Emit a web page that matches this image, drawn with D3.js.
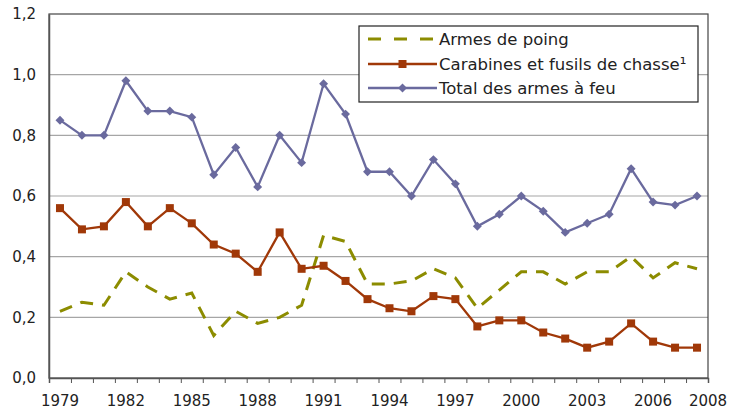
<!DOCTYPE html>
<html>
<head>
<meta charset="utf-8">
<script src="https://cdn.jsdelivr.net/npm/d3@7"></script>
<style>
  body { margin: 0; background: #fff; }
  text { font-family: "DejaVu Sans", Verdana, sans-serif; fill: #222; }
</style>
</head>
<body>
<div id="chart"></div>
<script>
// data
var years = d3.range(1979, 2009);
var armesPoing = [0.22, 0.25, 0.24, 0.35, 0.30, 0.26, 0.28, 0.14, 0.22, 0.18,
  0.20, 0.24, 0.47, 0.45, 0.31, 0.31, 0.32, 0.36, 0.33, 0.23,
  0.29, 0.35, 0.35, 0.31, 0.35, 0.35, 0.40, 0.33, 0.38, 0.36];
var carabines = [0.56, 0.49, 0.50, 0.58, 0.50, 0.56, 0.51, 0.44, 0.41, 0.35,
  0.48, 0.36, 0.37, 0.32, 0.26, 0.23, 0.22, 0.27, 0.26, 0.17,
  0.19, 0.19, 0.15, 0.13, 0.10, 0.12, 0.18, 0.12, 0.10, 0.10];
var total = [0.85, 0.80, 0.80, 0.98, 0.88, 0.88, 0.86, 0.67, 0.76, 0.63,
  0.80, 0.71, 0.97, 0.87, 0.68, 0.68, 0.60, 0.72, 0.64, 0.50,
  0.54, 0.60, 0.55, 0.48, 0.51, 0.54, 0.69, 0.58, 0.57, 0.60];
var yTicks = [0, 0.2, 0.4, 0.6, 0.8, 1.0, 1.2];
var xLabels = [1979, 1982, 1985, 1988, 1991, 1994, 1997, 2000, 2003, 2006];
var lastLabel = 2008;
var seriesNames = ["Armes de poing", "Carabines et fusils de chasse\u00b9", "Total des armes \u00e0 feu"];

// dimensions
var W = 731, H = 410;
var margin = { top: 14, right: 23, bottom: 32, left: 49 },
  width = W - margin.left - margin.right,
  height = H - margin.top - margin.bottom;

var svg = d3.select("#chart")
  .append("svg")
  .attr("width", W)
  .attr("height", H)
  .append("g")
  .attr("transform", "translate(" + margin.left + "," + margin.top + ")");

// scales
var x = d3.scaleBand().domain(years).range([0, width]).padding(0);
var cx = function (d) { return x(d) + x.bandwidth() / 2; };
var y = d3.scaleLinear().domain([0, 1.2]).range([height, 0]);
var fmt = function (v) { return d3.format(".1f")(v).replace(".", ","); };

// gridlines
svg.selectAll(".grid")
  .data(yTicks.slice(1, -1))
  .enter()
  .append("line")
  .attr("x1", 0).attr("x2", width)
  .attr("y1", function (d) { return y(d); })
  .attr("y2", function (d) { return y(d); })
  .attr("stroke", "#a6a6a6")
  .attr("stroke-width", 1.2);

// plot border
svg.append("rect")
  .attr("x", 0).attr("y", 0)
  .attr("width", width).attr("height", height)
  .attr("fill", "none")
  .attr("stroke", "#444")
  .attr("stroke-width", 1.2);

// y labels
var yAxis = svg.append("g")
  .call(d3.axisLeft(y).tickValues(yTicks).tickSize(0).tickPadding(13).tickFormat(fmt));
yAxis.select(".domain").attr("stroke", "#555").attr("stroke-width", 1.5);
yAxis.selectAll("text").style("font-size", "15px").attr("fill", "#222");

// x tick marks at category boundaries
var xIdx = d3.scaleLinear().domain([0, years.length]).range([0, width]);
var xAxis = svg.append("g")
  .attr("transform", "translate(0," + height + ")")
  .call(d3.axisBottom(xIdx).tickValues(d3.range(years.length + 1)).tickSize(5).tickFormat(""));
xAxis.select(".domain").attr("stroke", "#555").attr("stroke-width", 1.5);
xAxis.selectAll(".tick line").attr("stroke", "#555");

// x labels
svg.selectAll(".xlab")
  .data(xLabels)
  .enter()
  .append("text")
  .attr("x", cx)
  .attr("y", height + 28)
  .attr("text-anchor", "middle")
  .style("font-size", "15px")
  .text(function (d) { return d; });
svg.append("text")
  .attr("x", width)
  .attr("y", height + 28)
  .attr("text-anchor", "middle")
  .style("font-size", "15px")
  .text(lastLabel);

// lines
var lineOf = function (vals) {
  return d3.line()
    .x(function (d, i) { return cx(years[i]); })
    .y(function (d) { return y(d); })(vals);
};

svg.append("path")
  .attr("d", lineOf(armesPoing))
  .attr("fill", "none")
  .attr("stroke", "#8c8c00")
  .attr("stroke-width", 3)
  .attr("stroke-dasharray", "13,9");

svg.append("path")
  .attr("d", lineOf(carabines))
  .attr("fill", "none")
  .attr("stroke", "#a03808")
  .attr("stroke-width", 2.3);

svg.selectAll(".sq")
  .data(carabines)
  .enter()
  .append("rect")
  .attr("x", function (d, i) { return cx(years[i]) - 4; })
  .attr("y", function (d) { return y(d) - 4; })
  .attr("width", 8).attr("height", 8)
  .attr("fill", "#a03808");

svg.append("path")
  .attr("d", lineOf(total))
  .attr("fill", "none")
  .attr("stroke", "#6a6a9e")
  .attr("stroke-width", 2.3);

// diamond = square turned 45 degrees
var diamond = d3.symbol().type(d3.symbolSquare).size(40);
svg.selectAll(".dm")
  .data(total)
  .enter()
  .append("path")
  .attr("d", diamond)
  .attr("transform", function (d, i) { return "translate(" + cx(years[i]) + "," + y(d) + ") rotate(45)"; })
  .attr("fill", "#6a6a9e");

// legend
var lg = d3.select("svg").append("g").attr("transform", "translate(359,26)");
lg.append("rect")
  .attr("width", 339).attr("height", 76)
  .attr("fill", "#fff")
  .attr("stroke", "#222")
  .attr("stroke-width", 1.2);

var rowY = [13, 38, 62];
var colors = ["#8c8c00", "#a03808", "#6a6a9e"];
lg.selectAll(".lt")
  .data(seriesNames)
  .enter()
  .append("text")
  .attr("x", 80)
  .attr("y", function (d, i) { return rowY[i]; })
  .attr("dy", "0.35em")
  .style("font-size", "16.5px")
  .text(function (d) { return d; });

lg.append("line")
  .attr("x1", 9).attr("x2", 78)
  .attr("y1", rowY[0]).attr("y2", rowY[0])
  .attr("stroke", colors[0]).attr("stroke-width", 3)
  .attr("stroke-dasharray", "13,13");
lg.append("line")
  .attr("x1", 9).attr("x2", 78)
  .attr("y1", rowY[1]).attr("y2", rowY[1])
  .attr("stroke", colors[1]).attr("stroke-width", 2.3);
lg.append("rect")
  .attr("x", 39.5).attr("y", rowY[1] - 4)
  .attr("width", 8).attr("height", 8)
  .attr("fill", colors[1]);
lg.append("line")
  .attr("x1", 9).attr("x2", 78)
  .attr("y1", rowY[2]).attr("y2", rowY[2])
  .attr("stroke", colors[2]).attr("stroke-width", 2.3);
lg.append("path")
  .attr("d", diamond)
  .attr("transform", "translate(43.5," + rowY[2] + ") rotate(45)")
  .attr("fill", colors[2]);
</script>
</body>
</html>
